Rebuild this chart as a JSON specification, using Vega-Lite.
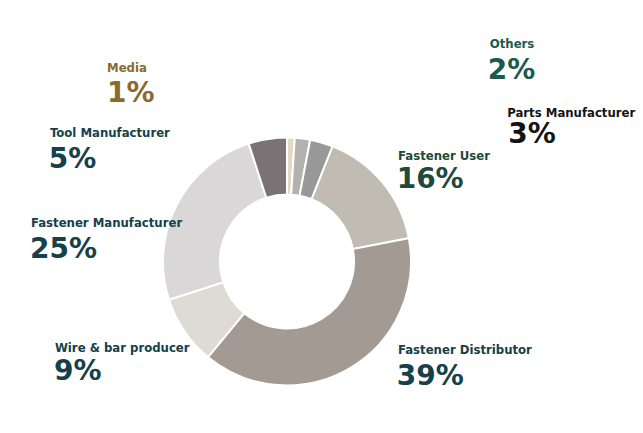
{
  "$schema": "https://vega.github.io/schema/vega-lite/v6.json",
  "width": 574,
  "height": 343,
  "autosize": "none",
  "padding": {"left": 0, "right": 69, "top": 90, "bottom": 0},
  "background": "#ffffff",
  "config": {"view": {"stroke": null}},
  "data": {"values": [
    {"idx": 1, "category": "Media", "value": 1, "pct": "1%"},
    {"idx": 2, "category": "Others", "value": 2, "pct": "2%"},
    {"idx": 3, "category": "Parts Manufacturer", "value": 3, "pct": "3%"},
    {"idx": 4, "category": "Fastener User", "value": 16, "pct": "16%"},
    {"idx": 5, "category": "Fastener Distributor", "value": 39, "pct": "39%"},
    {"idx": 6, "category": "Wire & bar producer", "value": 9, "pct": "9%"},
    {"idx": 7, "category": "Fastener Manufacturer", "value": 25, "pct": "25%"},
    {"idx": 8, "category": "Tool Manufacturer", "value": 5, "pct": "5%"}
  ]},
  "transform": [
    {"stack": "value", "groupby": [], "sort": [{"field": "idx", "order": "ascending"}], "as": ["v0", "v1"]}
  ],
  "encoding": {
    "theta": {"field": "v0", "type": "quantitative", "stack": null, "scale": {"domain": [0, 100]}}
  },
  "layer": [
    {
      "mark": {"type": "arc", "outerRadius": 124, "innerRadius": 67, "stroke": "#ffffff", "strokeWidth": 2},
      "encoding": {
        "theta2": {"field": "v1"},
        "color": {"field": "category", "type": "nominal", "legend": null,
          "scale": {
            "domain": ["Media", "Others", "Parts Manufacturer", "Fastener User", "Fastener Distributor", "Wire & bar producer", "Fastener Manufacturer", "Tool Manufacturer"],
            "range": ["#e2d9c5", "#b4b1af", "#999898", "#c0bcb2", "#a39a94", "#dedad4", "#dad7d8", "#7a7275"]
          }}
      }
    },
    {"transform": [{"filter": "datum.category == 'Media'"}],
     "mark": {"type": "text", "radius": 124, "align": "left", "baseline": "alphabetic", "dx": -180, "dy": -65.5, "font": "DejaVu Sans Condensed, sans-serif", "fontWeight": "bold", "fontSize": 13, "color": "#8a6a2e"},
     "encoding": {"text": {"field": "category"}}},
    {"transform": [{"filter": "datum.category == 'Media'"}],
     "mark": {"type": "text", "radius": 124, "align": "left", "baseline": "alphabetic", "dx": -180, "dy": -35.5, "font": "DejaVu Sans", "fontWeight": "bold", "fontSize": 28, "color": "#8a6a2e"},
     "encoding": {"text": {"field": "pct"}}},
    {"transform": [{"filter": "datum.category == 'Others'"}],
     "mark": {"type": "text", "radius": 124, "align": "left", "baseline": "alphabetic", "dx": 195, "dy": -89.7, "font": "DejaVu Sans Condensed, sans-serif", "fontWeight": "bold", "fontSize": 13, "color": "#1d5a4e"},
     "encoding": {"text": {"field": "category"}}},
    {"transform": [{"filter": "datum.category == 'Others'"}],
     "mark": {"type": "text", "radius": 124, "align": "left", "baseline": "alphabetic", "dx": 193, "dy": -58.7, "font": "DejaVu Sans", "fontWeight": "bold", "fontSize": 28, "color": "#1d5a4e"},
     "encoding": {"text": {"field": "pct"}}},
    {"transform": [{"filter": "datum.category == 'Parts Manufacturer'"}],
     "mark": {"type": "text", "radius": 124, "align": "left", "baseline": "alphabetic", "dx": 197, "dy": -22.7, "font": "DejaVu Sans Condensed, sans-serif", "fontWeight": "bold", "fontSize": 13, "color": "#141414"},
     "encoding": {"text": {"field": "category"}}},
    {"transform": [{"filter": "datum.category == 'Parts Manufacturer'"}],
     "mark": {"type": "text", "radius": 124, "align": "left", "baseline": "alphabetic", "dx": 198, "dy": 3.3, "font": "DejaVu Sans", "fontWeight": "bold", "fontSize": 28, "color": "#141414"},
     "encoding": {"text": {"field": "pct"}}},
    {"transform": [{"filter": "datum.category == 'Fastener User'"}],
     "mark": {"type": "text", "radius": 124, "align": "left", "baseline": "alphabetic", "dx": 65.4, "dy": 13.5, "font": "DejaVu Sans Condensed, sans-serif", "fontWeight": "bold", "fontSize": 13, "color": "#1c4a3c"},
     "encoding": {"text": {"field": "category"}}},
    {"transform": [{"filter": "datum.category == 'Fastener User'"}],
     "mark": {"type": "text", "radius": 124, "align": "left", "baseline": "alphabetic", "dx": 64, "dy": 41.5, "font": "DejaVu Sans", "fontWeight": "bold", "fontSize": 28, "color": "#1c4a3c"},
     "encoding": {"text": {"field": "pct"}}},
    {"transform": [{"filter": "datum.category == 'Fastener Distributor'"}],
     "mark": {"type": "text", "radius": 124, "align": "left", "baseline": "alphabetic", "dx": -10.8, "dy": 115.7, "font": "DejaVu Sans Condensed, sans-serif", "fontWeight": "bold", "fontSize": 13, "color": "#16404a"},
     "encoding": {"text": {"field": "category"}}},
    {"transform": [{"filter": "datum.category == 'Fastener Distributor'"}],
     "mark": {"type": "text", "radius": 124, "align": "left", "baseline": "alphabetic", "dx": -12, "dy": 146.7, "font": "DejaVu Sans", "fontWeight": "bold", "fontSize": 28, "color": "#16404a"},
     "encoding": {"text": {"field": "pct"}}},
    {"transform": [{"filter": "datum.category == 'Wire & bar producer'"}],
     "mark": {"type": "text", "radius": 124, "align": "left", "baseline": "alphabetic", "dx": -153, "dy": -5, "font": "DejaVu Sans Condensed, sans-serif", "fontWeight": "bold", "fontSize": 13, "color": "#16404a"},
     "encoding": {"text": {"field": "category"}}},
    {"transform": [{"filter": "datum.category == 'Wire & bar producer'"}],
     "mark": {"type": "text", "radius": 124, "align": "left", "baseline": "alphabetic", "dx": -154, "dy": 23, "font": "DejaVu Sans", "fontWeight": "bold", "fontSize": 28, "color": "#16404a"},
     "encoding": {"text": {"field": "pct"}}},
    {"transform": [{"filter": "datum.category == 'Fastener Manufacturer'"}],
     "mark": {"type": "text", "radius": 124, "align": "left", "baseline": "alphabetic", "dx": -138.1, "dy": -72.8, "font": "DejaVu Sans Condensed, sans-serif", "fontWeight": "bold", "fontSize": 13, "color": "#16404a"},
     "encoding": {"text": {"field": "category"}}},
    {"transform": [{"filter": "datum.category == 'Fastener Manufacturer'"}],
     "mark": {"type": "text", "radius": 124, "align": "left", "baseline": "alphabetic", "dx": -139, "dy": -41.8, "font": "DejaVu Sans", "fontWeight": "bold", "fontSize": 28, "color": "#16404a"},
     "encoding": {"text": {"field": "pct"}}},
    {"transform": [{"filter": "datum.category == 'Tool Manufacturer'"}],
     "mark": {"type": "text", "radius": 124, "align": "left", "baseline": "alphabetic", "dx": -198.7, "dy": -6.6, "font": "DejaVu Sans Condensed, sans-serif", "fontWeight": "bold", "fontSize": 13, "color": "#16404a"},
     "encoding": {"text": {"field": "category"}}},
    {"transform": [{"filter": "datum.category == 'Tool Manufacturer'"}],
     "mark": {"type": "text", "radius": 124, "align": "left", "baseline": "alphabetic", "dx": -200, "dy": 24.4, "font": "DejaVu Sans", "fontWeight": "bold", "fontSize": 28, "color": "#16404a"},
     "encoding": {"text": {"field": "pct"}}}
  ]
}
